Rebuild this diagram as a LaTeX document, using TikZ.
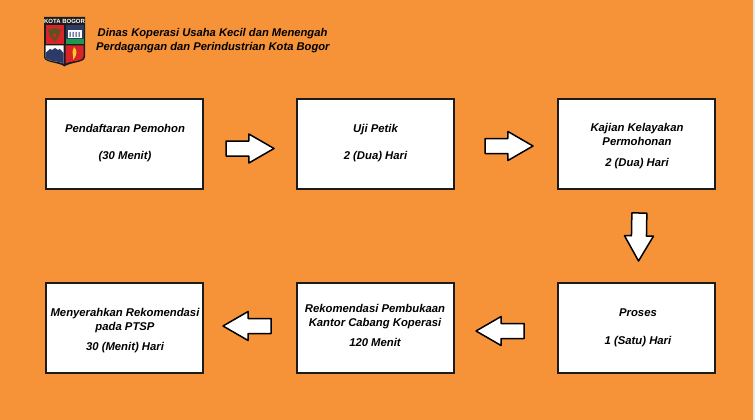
\documentclass[tikz,border=0pt]{standalone}
\usepackage{fontspec}
\setmainfont{Liberation Sans}
\usetikzlibrary{shapes.arrows}
\definecolor{bgor}{HTML}{F69238}
\definecolor{inkc}{HTML}{1C1C1C}
\definecolor{lgred}{HTML}{D8232A}
\definecolor{lgnavy}{HTML}{2B3A67}
\definecolor{lggreen}{HTML}{1E9A4B}
\definecolor{lgyel}{HTML}{F7D11E}
\tikzset{
  x=1pt,y=-1pt,
  stepbox/.style={draw=inkc,line width=2pt,fill=white,minimum width=157pt,minimum height=90pt,inner sep=0pt},
  steptext/.style={align=center,text=black,inner sep=0pt,font=\fontsize{11.3}{14}\selectfont\bfseries\itshape},
  headtext/.style={align=left,anchor=west,text=black,inner sep=0pt,font=\fontsize{11.2}{14}\selectfont\bfseries\itshape},
  blockarrow/.style={single arrow,draw=black,fill=white,line width=1.5pt,line join=round,inner sep=0pt,
    minimum height=48pt,single arrow head extend=7pt,single arrow tip angle=60},
}
\newcommand{\shaftgauge}{\rule{0pt}{13.5pt}}
\begin{document}
\begin{tikzpicture}
\useasboundingbox (0,0) rectangle (755,420);
\fill[bgor] (0,0) rectangle (755,420);
\fill[black!10] (753,0) rectangle (755,420);
% logo
\path[fill=inkc] (44,17) -- (85,17) -- (85,57) .. controls (85,63) and (70,62) .. (64.5,66.5) .. controls (59,62) and (44,63) .. (44,57) -- cycle;
\fill[lgred] (45.5,25) rectangle (63.5,44);
\fill[lgnavy] (65.5,25) rectangle (83.5,44);
\fill[lggreen] (65.5,39.5) rectangle (83.5,44);
\fill[white] (67.5,30) rectangle (81.5,38);
\fill[lgnavy] (69.5,32) rectangle (70.5,37) (72.5,32) rectangle (73.5,37) (75.5,32) rectangle (76.5,37) (78.5,32) rectangle (79.5,37);
\path[fill=inkc!70!lgyel] (54.5,28) -- (61,30) -- (59,36) -- (54.5,42) -- (50,36) -- (48,30) -- cycle;
\fill[lgred] (54.5,33) -- (56.5,35) -- (54.5,38) -- (52.5,35) -- cycle;
\path[fill=white] (45.5,45.5) -- (63.5,45.5) -- (63.5,63.5) .. controls (58,60.5) and (45.5,62) .. (45.5,56) -- cycle;
\path[fill=lgnavy] (45.5,53) -- (50,49) -- (52,50) -- (55,48) -- (58,50) -- (60,49) -- (63.5,53) -- (63.5,63.5) .. controls (58,60.5) and (45.5,62) .. (45.5,56) -- cycle;
\path[fill=lgred] (65.5,45.5) -- (83.5,45.5) -- (83.5,56) .. controls (83.5,62) and (71,60.5) .. (65.5,63.5) -- cycle;
\path[fill=lgyel] (74,47) .. controls (78,51) and (77,55) .. (73,60) .. controls (74,55) and (71,53) .. (74,47) -- cycle;
\node[text=white,inner sep=0pt,font=\fontsize{6}{7}\selectfont\bfseries] (logotext) at (64.5,21) {KOTA BOGOR};
% header
\node[headtext] (head) at (96,41) {\hspace*{1.5pt}Dinas Koperasi Usaha Kecil dan Menengah\\Perdagangan dan Perindustrian Kota Bogor};
% boxes
\node[stepbox] (b1) at (124,143.5) {};
\node[stepbox] (b2) at (375,143.5) {};
\node[stepbox] (b3) at (636,143.5) {};
\node[stepbox] (b4) at (636,327.5) {};
\node[stepbox] (b5) at (375,327.5) {};
\node[stepbox] (b6) at (124,327.5) {};
% texts
\node[steptext] (t1) at (125,143) {Pendaftaran Pemohon\\[12.5pt](30 Menit)};
\node[steptext] (t2) at (375.5,143) {Uji Petik\\[12.5pt]2 (Dua) Hari};
\node[steptext] (t3) at (637,146) {Kajian Kelayakan\\Permohonan\\[7pt]2 (Dua) Hari};
\node[steptext] (t4) at (638,328) {Proses\\[14pt]1 (Satu) Hari};
\node[steptext] (t5) at (375,325.5) {Rekomendasi Pembukaan\\Kantor Cabang Koperasi\\[6pt]120 Menit};
\node[steptext] (t6) at (125,330.5) {Menyerahkan Rekomendasi\\pada PTSP\\[5.5pt]30 (Menit) Hari};
% arrows
\node[blockarrow,anchor=tip] (a1) at (275.5,148.5) {\shaftgauge};
\node[blockarrow,anchor=tip] (a2) at (534.5,146) {\shaftgauge};
\node[blockarrow,rotate=-91,anchor=tip] (a3) at (638.5,262.5) {\shaftgauge};
\node[blockarrow,rotate=180,anchor=tip] (a4) at (474.5,331) {\shaftgauge};
\node[blockarrow,rotate=180,anchor=tip] (a5) at (221.5,326) {\shaftgauge};
\end{tikzpicture}
\end{document}
